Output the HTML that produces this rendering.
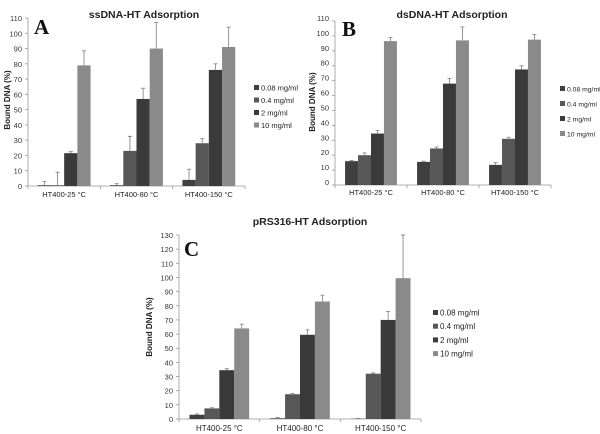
<!DOCTYPE html>
<html><head><meta charset="utf-8"><style>
body{margin:0;background:#fff;}
svg{display:block;font-family:"Liberation Sans",sans-serif;}
</style></head><body>
<svg id="fig" width="600" height="434" viewBox="0 0 600 434"></svg>
<script>
const categories = ["HT400-25 °C","HT400-80 °C","HT400-150 °C"];
const seriesNames = ["0.08 mg/ml","0.4 mg/ml","2 mg/ml","10 mg/ml"];
const seriesColors = ["#3f3f3f","#575757","#3a3a3a","#8a8a8a"];
const aVals = [[0.5,0.5,4],[0.5,23,28],[21.5,57,76],[79,90,91]];
const aErr = [[3,1.5,11],[9,32.5,31],[22.5,64,80],[88.5,107,104]];
const bVals = [[16,15.5,13.5],[20,24.5,31],[34.5,68,77.5],[96.5,97,97.5]];
const bErr = [[16.5,16,15],[21.5,25.5,32],[36.5,71.5,80],[99,106,101]];
const cVals = [[3,0.5,0.2],[7.5,17.5,32],[34.5,59.5,70],[64,83,99.5]];
const cErr = [[3.5,1,0.5],[8,18,32.5],[35.5,63,76],[67,87.5,130]];
const aTicks = [0,10,20,30,40,50,60,70,80,90,100,110];
const bTicks = [0,10,20,30,40,50,60,70,80,90,100,110];
const cTicks = [0,10,20,30,40,50,60,70,80,90,100,110,120,130];

const NS="http://www.w3.org/2000/svg";
const svg=document.getElementById('fig');
function mk(tag,attrs,parent,txt){const e=document.createElementNS(NS,tag);for(const k in attrs)e.setAttribute(k,attrs[k]);if(txt!==undefined)e.textContent=txt;(parent||svg).appendChild(e);return e;}

function chart(id,cfg,vals,errs,ticks){
  const g=mk('g',{},svg);
  
  
  const max=ticks[ticks.length-1];
  const y=v=>cfg.y0-(v/max)*(cfg.y0-cfg.yTop);
  const cw=(cfg.x1-cfg.x0)/categories.length;
  const xc=i=>cfg.x0+cw*(i+0.5);
  const ax=mk('line',{x1:cfg.x0,y1:cfg.yTop,x2:cfg.x0,y2:cfg.y0,stroke:'#999','stroke-width':0.8},g);
  
  
  const bx=mk('line',{x1:cfg.x0,y1:cfg.y0,x2:cfg.x1,y2:cfg.y0,stroke:'#999','stroke-width':0.8},g);
  
  
  ticks.forEach(t=>{
    mk('line',{x1:cfg.x0-3,y1:y(t),x2:cfg.x0,y2:y(t),stroke:'#999','stroke-width':0.8},g);
    const tl=mk('text',{x:cfg.x0-6,y:y(t)+3-(cfg.lblShift||0),'text-anchor':'end','font-size':7.5,fill:'#333'},g,t);
    
    
  });
  for(let i=0;i<=categories.length;i++){
    mk('line',{x1:cfg.x0+cw*i,y1:cfg.y0,x2:cfg.x0+cw*i,y2:cfg.y0+3,stroke:'#999','stroke-width':0.8},g);
  }
  const bw=cw*cfg.ratio/4;
  categories.forEach((c,i)=>{
    const cl=mk('text',{x:xc(i),y:cfg.y0+cfg.lblDy,'text-anchor':'middle','font-size':cfg.fs,fill:'#222'},g,c);
    
    
    vals.forEach((s,k)=>{
      const x=xc(i)-bw*2+bw*k;
      const v=s[i];
      const r=mk('rect',{x:x,y:y(v),width:bw,height:cfg.y0-y(v),fill:seriesColors[k]},g);
      
      
      const e=errs[k][i];
      const ex=x+bw/2;
      const el=mk('path',{d:`M${ex},${y(v)}V${y(e)}M${ex-2},${y(e)}H${ex+2}`,stroke:'#8a8a8a','stroke-width':0.9,fill:'none'},g);
      
      
    });
  });
  const tt=mk('text',{x:cfg.tx,y:cfg.ty,'text-anchor':'middle','font-size':10.5,'font-weight':'bold',fill:'#222'},g,cfg.title);
  
  
  const lt=mk('text',{x:cfg.lx,y:cfg.ly,'font-size':21,'font-weight':'bold','font-family':'Liberation Serif, serif',fill:'#111'},g,cfg.letter);
  
  
  const yl=mk('text',{x:0,y:0,transform:`translate(${cfg.ylx},${cfg.yly}) rotate(-90)`,'text-anchor':'middle','font-size':8,'font-weight':'bold',fill:'#222'},g,'Bound DNA (%)');
  
  
  seriesNames.forEach((n,k)=>{
    const ly=cfg.legY+cfg.legStep*k;
    const sq=mk('rect',{x:cfg.legX,y:ly-3,width:5,height:5,fill:seriesColors[k]},g);
    
    
    const lt2=mk('text',{x:cfg.legX+7,y:ly+2.5,'font-size':cfg.legFs,fill:'#222'},g,n);
    
    
  });
}
chart('ssdna',{x0:28,x1:245,y0:186,yTop:18,ratio:0.73,fs:7.5,lblDy:11,tx:144,ty:18,title:'ssDNA-HT Adsorption',letter:'A',lx:34,ly:34,ylx:10,yly:100,legX:254,legY:88,legStep:12.5,legFs:7.5},aVals,aErr,aTicks);
chart('dsdna',{x0:335,x1:551,y0:185,yTop:21,ratio:0.72,fs:7.5,lblDy:10,tx:452,ty:18,title:'dsDNA-HT Adsorption',letter:'B',lx:342,ly:36,ylx:315,yly:102,legX:560,legY:89,legStep:15,legFs:6.8,lblShift:3},bVals,bErr,bTicks);
chart('prs316',{x0:179,x1:421,y0:419,yTop:235,ratio:0.74,fs:8,lblDy:12,tx:310,ty:225,title:'pRS316-HT Adsorption',letter:'C',lx:184,ly:256,ylx:152,yly:327,legX:433,legY:313,legStep:13.7,legFs:8},cVals,cErr,cTicks);
</script>
</body></html>
